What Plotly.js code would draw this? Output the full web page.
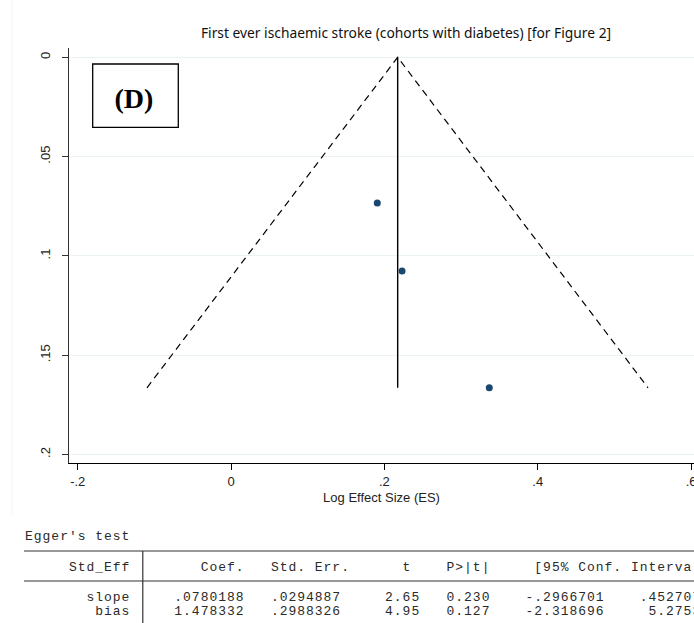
<!DOCTYPE html>
<html>
<head>
<meta charset="utf-8">
<script src="https://cdn.plot.ly/plotly-3.0.1.min.js"></script>
<style>
html,body{margin:0;padding:0;overflow:hidden;background:#fff;width:694px;height:623px;}
#chart{width:760px;height:623px;}
text.annotation-text{letter-spacing:0.98px;}
g.annotation[data-index="0"] text.annotation-text{letter-spacing:0;}
</style>
</head>
<body>
<div id="chart"></div>
<script>
// ---- data ----
const studyES = [0.1907, 0.2230, 0.3368];
const studySE = [0.0734, 0.1076, 0.1664];
const pooledX = [0.2173, 0.2173];
const pooledY = [0, 0.1664];
const funnelX = [-0.1097, 0.2173, 0.5438];
const funnelY = [0.1664, 0, 0.1664];
const xTickVals = [-0.2, 0, 0.2, 0.4, 0.6];
const xTickText = ['-.2', '0', '.2', '.4', '.6'];
const yTickVals = [0, 0.05, 0.1, 0.15, 0.2];
const yTickText = ['0', '.05', '.1', '.15', '.2'];
const chartTitle = 'First ever ischaemic stroke (cohorts with diabetes) [for Figure 2]';
const panelLabel = '(D)';
const xTitle = 'Log Effect Size (ES)';
const eggerTitle = "Egger's test";
const tableHeader = ['Std_Eff', 'Coef.', 'Std. Err.', 't', 'P>|t|', '[95% Conf. Interval]'];
const rowNames = ['slope', 'bias'];
const coef = ['.0780188', '1.478332'];
const stdErr = ['.0294887', '.2988326'];
const tStat = ['2.65', '4.95'];
const pVal = ['0.230', '0.127'];
const ciLow = ['-.2966701', '-2.318696'];
const ciHigh = ['.4527077', '5.275361'];

// ---- layout geometry ----
const W = 760, H = 623;
const M = {l: 69, r: 66, t: 48, b: 160};
const PW = W - M.l - M.r, PH = H - M.t - M.b;
const px = x => (x - M.l) / PW;
const py = y => (H - M.b - y) / PH;

// fixed-width Stata-style rows on a character grid
function lineBuilder() {
  let s = '';
  return {
    at(text, col) { while (s.length < col) s += ' '; s += text; return this; },
    atR(text, endCol) { return this.at(text, endCol - text.length + 1); },
    get() { return s.replace(/ /g, '\u00A0'); }
  };
}
const hdr = lineBuilder().atR(tableHeader[0], 11).atR(tableHeader[1], 24).at(tableHeader[2], 28)
  .at(tableHeader[3], 43).at(tableHeader[4], 48).at(tableHeader[5], 58).get();
const ciHighStart = [70, 71];
const dataRows = rowNames.map((n, i) => lineBuilder().atR(n, 11).atR(coef[i], 24).atR(stdErr[i], 35)
  .atR(tStat[i], 44).atR(pVal[i], 52).atR(ciLow[i], 65).at(ciHigh[i], ciHighStart[i]).get());

const mono = {family: 'Liberation Mono, monospace', size: 13, color: '#2a2a2a'};
const tx0 = px(24);
const rowAnn = (text, yPix) => ({text: text, xref: 'paper', yref: 'paper', x: tx0, y: py(yPix),
  xanchor: 'left', yanchor: 'middle', align: 'left', showarrow: false, borderpad: 0, font: mono});

const traces = [
  {x: funnelX, y: funnelY, type: 'scatter', mode: 'lines', hoverinfo: 'skip',
   line: {color: '#000', width: 1.2, dash: '7px,5px'}},
  {x: pooledX, y: pooledY, type: 'scatter', mode: 'lines', hoverinfo: 'skip',
   line: {color: '#000', width: 1.4}},
  {x: studyES, y: studySE, type: 'scatter', mode: 'markers',
   marker: {color: '#1a476f', size: 7}}
];

const axisFont = {family: 'Liberation Sans, Arial, sans-serif', size: 13, color: '#222'};

const layout = {
  width: W, height: H, margin: M, showlegend: false,
  paper_bgcolor: '#fff', plot_bgcolor: '#fff',
  title: {text: chartTitle, xref: 'container', yref: 'container',
          x: 406 / W, xanchor: 'center', y: 1 - 33 / H, yanchor: 'middle',
          font: {family: 'Noto Sans, Open Sans, sans-serif', size: 13.8, color: '#111'}},
  xaxis: {range: [-0.2114, 0.6038], tickvals: xTickVals, ticktext: xTickText,
          showgrid: false, zeroline: false, showline: true, linecolor: '#000', linewidth: 1,
          ticks: 'outside', ticklen: 6, tickcolor: '#000', tickfont: axisFont,
          ticklabeloverflow: 'allow',
          title: {text: xTitle, font: axisFont, standoff: 5}},
  yaxis: {range: [0.20428, -0.00468], tickvals: yTickVals, ticktext: yTickText,
          tickangle: -90, showgrid: true, gridcolor: '#eaf2f3', gridwidth: 1,
          zeroline: false, showline: true, linecolor: '#333', linewidth: 1,
          ticks: 'outside', ticklen: 6, tickcolor: '#333', tickfont: axisFont,
          ticklabelstandoff: 7},
  shapes: [
    {type: 'rect', xref: 'paper', yref: 'paper', x0: px(92.7), x1: px(178.3),
     y0: py(127.3), y1: py(64), line: {color: '#000', width: 1.3}, fillcolor: '#fff'},
    {type: 'line', xref: 'paper', yref: 'paper', x0: px(12), x1: px(12),
     y0: py(0), y1: py(515), line: {color: '#f1f3f3', width: 1}},
    {type: 'line', xref: 'paper', yref: 'paper', x0: px(24), x1: px(760),
     y0: py(551), y1: py(551), line: {color: '#333', width: 1.2}},
    {type: 'line', xref: 'paper', yref: 'paper', x0: px(24), x1: px(760),
     y0: py(581), y1: py(581), line: {color: '#333', width: 1.2}},
    {type: 'line', xref: 'paper', yref: 'paper', x0: px(142.8), x1: px(142.8),
     y0: py(551), y1: py(630), line: {color: '#333', width: 1.2}}
  ],
  annotations: [
    {text: '<b>' + panelLabel + '</b>', xref: 'paper', yref: 'paper', x: px(133.5), y: py(98),
     xanchor: 'center', yanchor: 'middle', showarrow: false,
     font: {family: 'Liberation Serif, Times New Roman, serif', size: 28, color: '#000'}},
    rowAnn(eggerTitle.replace(/ /g, '\u00A0'), 536),
    rowAnn(hdr, 567),
    rowAnn(dataRows[0], 597.5),
    rowAnn(dataRows[1], 611)
  ]
};

Plotly.newPlot('chart', traces, layout, {displayModeBar: false, staticPlot: true});
</script>
</body>
</html>
